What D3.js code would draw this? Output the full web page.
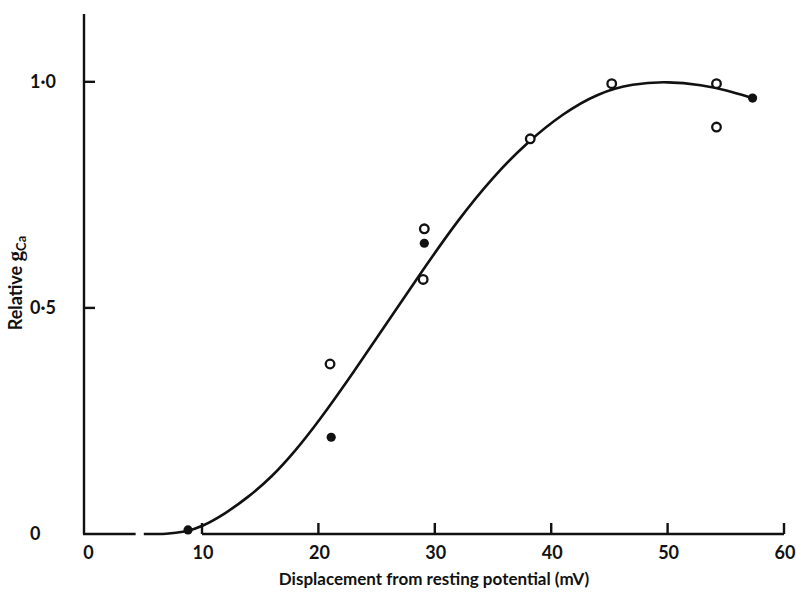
<!DOCTYPE html>
<html><head><meta charset="utf-8">
<script src="https://cdn.jsdelivr.net/npm/d3@7"></script>
<style>body{margin:0;background:#fff}svg{display:block}text{font-family:Lato,"Open Sans",sans-serif;font-weight:bold;fill:#111}</style>
</head><body>
<svg id="c" width="796" height="596"></svg>
<script>
const xTicks = [0, 10, 20, 30, 40, 50, 60];
const yTicks = [0, 0.5, 1.0];
const yTickLabels = ["0", "0·5", "1·0"];
const filledX = [8.8, 21.1, 29.1, 57.3];
const filledY = [0.009, 0.214, 0.643, 0.964];
const openX = [21.0, 29.1, 29.0, 38.2, 45.2, 54.2, 54.2];
const openY = [0.376, 0.675, 0.563, 0.874, 0.996, 0.996, 0.900];
const curveX = [5, 7, 8.5, 10, 12, 14, 16, 18, 20, 23, 26, 29, 32, 35, 38, 41, 44, 47, 50, 53, 55, 57.3];
const curveY = [0, 0.0, 0.004, 0.016, 0.045, 0.082, 0.126, 0.183, 0.248, 0.357, 0.471, 0.585, 0.695, 0.79, 0.868, 0.93, 0.975, 0.996, 1.001, 0.993, 0.982, 0.964];

const svg = d3.select("#c");
const x = d3.scaleLinear().domain([0, 60]).range([85.6, 784]);
const y = d3.scaleLinear().domain([0, 1.15]).range([534, 14]);
const ink = "#111";

svg.append("line").attr("x1", 84).attr("x2", 84).attr("y1", y(1.15)).attr("y2", y(0))
  .attr("stroke", ink).attr("stroke-width", 2.4);
svg.append("line").attr("x1", 83).attr("x2", x(4.3)).attr("y1", y(0)).attr("y2", y(0))
  .attr("stroke", ink).attr("stroke-width", 2.4);
svg.append("line").attr("x1", x(10)).attr("x2", x(60)).attr("y1", y(0)).attr("y2", y(0))
  .attr("stroke", ink).attr("stroke-width", 2.4);

svg.selectAll(".xt").data(xTicks.filter(d => d > 0)).enter().append("line")
  .attr("x1", d => x(d)).attr("x2", d => x(d)).attr("y1", y(0)).attr("y2", y(0) - 11)
  .attr("stroke", ink).attr("stroke-width", 2.4);
svg.selectAll(".xl").data(xTicks).enter().append("text")
  .attr("x", d => x(d) + (d === 0 ? 3 : 1)).attr("y", 559).attr("text-anchor", "middle")
  .attr("font-size", 18).text(d => d);

svg.selectAll(".yt").data(yTicks.filter(d => d > 0)).enter().append("line")
  .attr("x1", 84).attr("x2", 95).attr("y1", d => y(d)).attr("y2", d => y(d))
  .attr("stroke", ink).attr("stroke-width", 2.4);
svg.selectAll(".yl").data(yTicks).enter().append("text")
  .attr("x", 30).attr("y", d => y(d) + 6).attr("text-anchor", "start")
  .attr("font-size", 18).text((d, i) => yTickLabels[i]);

svg.append("text").attr("x", 434).attr("y", 585).attr("text-anchor", "middle")
  .attr("font-size", 17).text("Displacement from resting potential (mV)");
const yl = svg.append("text").attr("transform", "translate(22,283) rotate(-90)")
  .attr("text-anchor", "middle").attr("font-size", 18);
yl.append("tspan").text("Relative ");
yl.append("tspan").attr("font-family", "Liberation Serif").attr("font-size", 21).text("g");
yl.append("tspan").attr("font-size", 13).attr("dy", 4).text("Ca");

const pts = curveX.map((d, i) => [d, curveY[i]]);
svg.append("path").datum(pts)
  .attr("d", d3.line().x(d => x(d[0])).y(d => y(d[1])).curve(d3.curveBasis))
  .attr("fill", "none").attr("stroke", ink).attr("stroke-width", 2.6);

svg.selectAll(".op").data(openX.map((d, i) => [d, openY[i]])).enter().append("circle")
  .attr("cx", d => x(d[0])).attr("cy", d => y(d[1])).attr("r", 4.3)
  .attr("fill", "#fff").attr("stroke", ink).attr("stroke-width", 2.3);
svg.selectAll(".fp").data(filledX.map((d, i) => [d, filledY[i]])).enter().append("circle")
  .attr("cx", d => x(d[0])).attr("cy", d => y(d[1])).attr("r", 4.6)
  .attr("fill", ink);
</script>
</body></html>
